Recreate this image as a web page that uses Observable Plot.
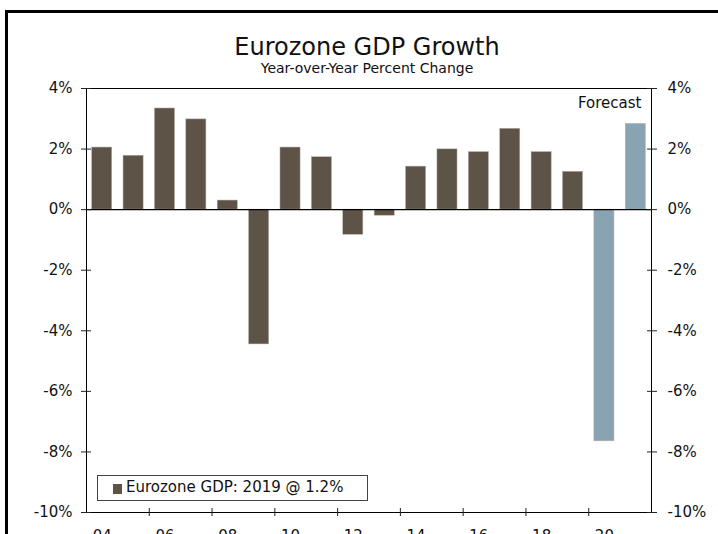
<!DOCTYPE html>
<html>
<head>
<meta charset="utf-8">
<script src="https://cdn.jsdelivr.net/npm/d3@7"></script>
<script src="https://cdn.jsdelivr.net/npm/@observablehq/plot@0.6"></script>
<style>
  html, body { margin: 0; padding: 0; overflow: hidden; background: #fff; width: 718px; height: 534px; }
  body { position: relative; font-family: "DejaVu Sans", Verdana, sans-serif; color: #111; }
  #frame { position: absolute; left: 5px; top: 10px; width: 730px; height: 600px;
           border-top: 3.5px solid #000; border-left: 3px solid #000; box-sizing: border-box; }
  #title { position: absolute; left: 0; top: 35px; width: 734px; text-align: center;
           font-size: 24px; line-height: 24px; }
  #subtitle { position: absolute; left: 0; top: 61px; width: 734px; text-align: center;
              font-size: 14px; line-height: 14px; }
  #chart { position: absolute; left: 0; top: 78px; }
  #legend { position: absolute; left: 97px; top: 475px; width: 271px; height: 26px;
            box-sizing: border-box; border: 1px solid #444; background: #fff; }
  #legend .sw { position: absolute; left: 15px; top: 8px; width: 9px; height: 10px; }
  #legend .lab { position: absolute; left: 28px; top: 4px; font-size: 15px; line-height: 15px; white-space: nowrap; }
</style>
</head>
<body>
<div id="frame"></div>
<div id="title">Eurozone GDP Growth</div>
<div id="subtitle">Year-over-Year Percent Change</div>
<div id="chart"></div>
<div id="legend"><span class="sw"></span><span class="lab"></span></div>
<script>
// ---- data ----
const years = [2004, 2005, 2006, 2007, 2008, 2009, 2010, 2011, 2012, 2013, 2014, 2015, 2016, 2017, 2018, 2019, 2020, 2021];
const growth = [2.05, 1.78, 3.34, 2.98, 0.30, -4.45, 2.05, 1.73, -0.83, -0.20, 1.42, 1.99, 1.90, 2.67, 1.90, 1.25, -7.65, 2.83];
const forecastFrom = 2020;
const seriesNames = ["Actual", "Forecast"];
const seriesColors = ["#5e5347", "#8aa3b3"];
const yTicks = [-10, -8, -6, -4, -2, 0, 2, 4];
const xLabelYears = [2004, 2006, 2008, 2010, 2012, 2014, 2016, 2018, 2020];
const xTickBounds = [2005.5, 2007.5, 2009.5, 2011.5, 2013.5, 2015.5, 2017.5, 2019.5];
const legendText = "Eurozone GDP: 2019 @ 1.2%";
const forecastLabel = "Forecast";

const data = years.map((year, i) => ({
  year, value: growth[i], type: year >= forecastFrom ? "Forecast" : "Actual"
}));

const pct = d => d + "%";
const half = 0.32;

const chart = Plot.plot({
  width: 718,
  height: 474,
  marginTop: 10,
  marginBottom: 40,
  marginLeft: 86,
  marginRight: 67,
  style: { fontFamily: "DejaVu Sans, Verdana, sans-serif", fontSize: "15px", color: "#111", background: "transparent", overflow: "visible" },
  x: { domain: [2003.5, 2021.5] },
  y: { domain: [-10, 4] },
  color: { domain: seriesNames, range: seriesColors },
  marks: [
    Plot.rectY(data, { x1: d => d.year - half, x2: d => d.year + half, y: "value", fill: "type", stroke: "#b5aea7", strokeWidth: 0.5 }),
    Plot.ruleY([0], { stroke: "#000", strokeWidth: 1.3 }),
    Plot.frame({ stroke: "#000" }),
    // crossing ticks
    Plot.axisY({ ticks: yTicks, anchor: "left", tickSize: 10, dx: 5, tickFormat: () => "", stroke: "#222", label: null }),
    Plot.axisY({ ticks: yTicks, anchor: "right", tickSize: 10, dx: -5, tickFormat: () => "", stroke: "#222", label: null }),
    Plot.axisX({ ticks: xTickBounds, anchor: "bottom", tickSize: 8, dy: -4, tickFormat: () => "", stroke: "#222", label: null }),
    // labels
    Plot.axisY({ ticks: yTicks, anchor: "left", tickSize: 0, tickPadding: 14, tickFormat: pct, label: null }),
    Plot.axisY({ ticks: yTicks, anchor: "right", tickSize: 0, tickPadding: 16, tickFormat: pct, label: null }),
    Plot.axisX({ ticks: xLabelYears, anchor: "bottom", tickSize: 0, tickPadding: 18, tickFormat: d => String(d).slice(2), label: null }),
    Plot.text([forecastLabel], { text: d => d, frameAnchor: "top-right", lineAnchor: "middle", dx: -10, dy: 15, fontSize: 15 })
  ]
});
document.getElementById("chart").appendChild(chart);

document.querySelector("#legend .sw").style.background = seriesColors[0];
document.querySelector("#legend .lab").textContent = legendText;
</script>
</body>
</html>
